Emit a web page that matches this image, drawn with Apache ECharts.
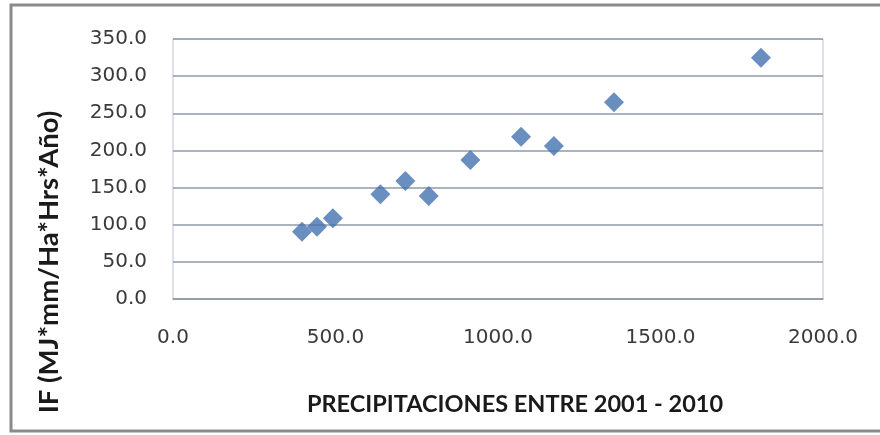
<!DOCTYPE html>
<html>
<head>
<meta charset="utf-8">
<script src="https://cdn.jsdelivr.net/npm/echarts@6/dist/echarts.min.js"></script>
<style>
html,body{margin:0;padding:0;background:#fff;}
#c{width:880px;height:435px;}
</style>
</head>
<body>
<div id="c"></div>
<script>
const precipitacion = [397, 443, 492, 638, 715, 787, 915, 1071, 1172, 1357, 1809];
const indiceIF = [90.6, 97.3, 108.6, 140.9, 158.8, 138.7, 187.1, 218.5, 206.0, 264.8, 324.8];
const xTitle = 'PRECIPITACIONES ENTRE 2001 - 2010';
const yTitle = 'IF (MJ*mm/Ha*Hrs*Año)';

const points = precipitacion.map((x, i) => [x, indiceIF[i]]);
const chart = echarts.init(document.getElementById('c'), null, {renderer: 'canvas'});
const titleFont = 'Lato, "Open Sans", sans-serif';
const tickFont = '"DejaVu Sans", sans-serif';
chart.setOption({
  animation: false,
  backgroundColor: '#ffffff',
  graphic: [
    {type: 'rect', z: -1, shape: {x: 11, y: 5, width: 900, height: 426},
     style: {fill: '#ffffff', stroke: '#8a8a8a', lineWidth: 3}},
    {type: 'rect', z: 0, shape: {x: 173, y: 39, width: 650, height: 260},
     style: {fill: 'none', stroke: '#b9c3da', lineWidth: 1}}
  ],
  grid: {left: 173, right: 57, top: 39, bottom: 136, show: false},
  xAxis: {
    type: 'value', min: 0, max: 2000, interval: 500,
    name: xTitle, nameLocation: 'middle', nameGap: 93,
    nameTextStyle: {fontFamily: titleFont, fontWeight: 'bold', fontSize: 23.5, color: '#1a1a1a', padding: [0, 0, 0, 34]},
    axisLine: {show: true, lineStyle: {color: '#8e9aa8', width: 1.5}},
    axisTick: {show: false},
    splitLine: {show: false},
    axisLabel: {formatter: v => v.toFixed(1), margin: 29, fontFamily: tickFont, fontSize: 20, color: '#3a3a3a'}
  },
  yAxis: {
    type: 'value', min: 0, max: 350, interval: 50,
    name: yTitle, nameLocation: 'middle', nameGap: 110, nameRotate: 90,
    nameTextStyle: {fontFamily: titleFont, fontWeight: 'bold', fontSize: 27.5, color: '#1a1a1a', padding: [0, 186, 0, 0]},
    axisLine: {show: false},
    axisTick: {show: false},
    splitLine: {show: true, lineStyle: {color: '#8e9aa8', width: 1.5}},
    axisLabel: {formatter: v => v.toFixed(1), margin: 26, fontFamily: tickFont, fontSize: 20, color: '#3a3a3a'}
  },
  series: [{
    type: 'scatter',
    data: points,
    symbol: 'diamond',
    symbolSize: 20,
    itemStyle: {color: '#4372b0'}
  }]
});
</script>
</body>
</html>
